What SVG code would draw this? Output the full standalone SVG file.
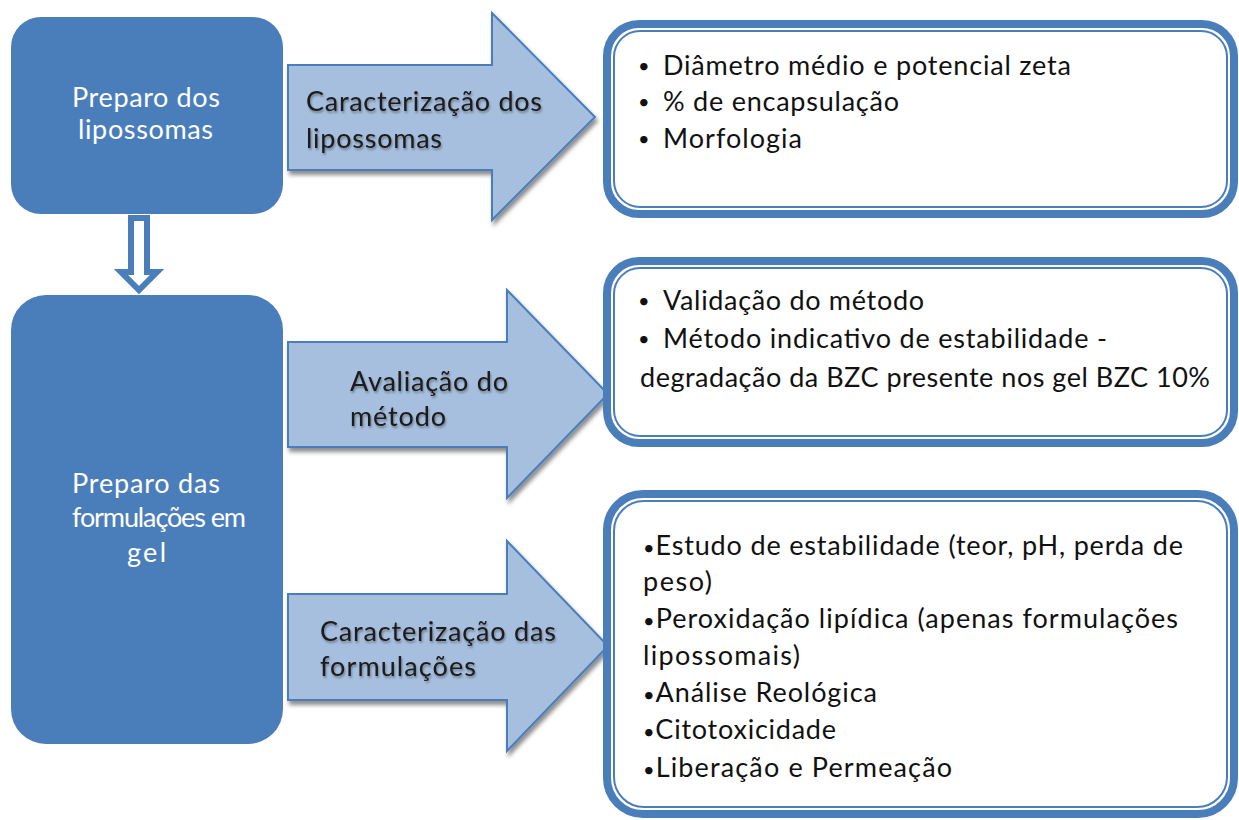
<svg xmlns="http://www.w3.org/2000/svg" width="1239" height="820" viewBox="0 0 1239 820">
<defs>
<filter id="sh" x="-10%" y="-10%" width="125%" height="130%">
<feDropShadow dx="2" dy="4" stdDeviation="2" flood-color="#000" flood-opacity="0.45"/>
</filter>
<filter id="tsh" x="-5%" y="-20%" width="110%" height="150%">
<feDropShadow dx="1" dy="2" stdDeviation="1.2" flood-color="#000" flood-opacity="0.35"/>
</filter>
</defs>
<style>
.lb{fill:#4a7ebb;}
.lt{font-family:Lato,"Liberation Sans",sans-serif;font-size:27px;fill:#ffffff;}
.arr{fill:#a7bfde;stroke:#4a7ebb;stroke-width:2;filter:url(#sh);}
.at{font-family:Lato,"Liberation Sans",sans-serif;font-size:27px;fill:#1a1a1a;filter:url(#tsh);}
.bo{fill:#ffffff;stroke:#4a7ebb;stroke-width:8;}
.bi{fill:none;stroke:#4a7ebb;stroke-width:2;}
.bt{font-family:Lato,"Liberation Sans",sans-serif;font-size:27px;fill:#111111;}
.bu{font-size:20px;}
</style>
<g id="connectors">
<path d="M131,218 H147 V272 H157 L139,290 L121,272 H131 Z" fill="#ffffff" stroke="#4a7ebb" stroke-width="6"/>
</g>
<g id="node-preparo-lipossomas">
<rect class="lb" x="11" y="17" width="272" height="197" rx="30"/>
<text class="lt" x="72" y="107" textLength="148">Preparo dos</text>
<text class="lt" x="78" y="139" textLength="135">lipossomas</text>
</g>
<g id="node-preparo-formulacoes">
<rect class="lb" x="11" y="295" width="272" height="449" rx="35"/>
<text class="lt" x="72" y="493" textLength="148">Preparo das</text>
<text class="lt" x="72" y="527" textLength="174">formulações em</text>
<text class="lt" x="127" y="562" textLength="39">gel</text>
</g>
<g id="arrow-caracterizacao-lipossomas">
<polygon class="arr" points="288,65 492,65 492,13 595,117 492,220 492,170 288,170"/>
<text class="at" x="306" y="111" textLength="236">Caracterização dos</text>
<text class="at" x="306" y="148" textLength="136">lipossomas</text>
</g>
<g id="arrow-avaliacao-metodo">
<polygon class="arr" points="288,342 507,342 507,290 608,394 507,498 507,447 288,447"/>
<text class="at" x="350" y="391" textLength="158">Avaliação do</text>
<text class="at" x="350" y="426" textLength="96">método</text>
</g>
<g id="arrow-caracterizacao-formulacoes">
<polygon class="arr" points="288,594 507,594 507,541 608,646 507,751 507,700 288,700"/>
<text class="at" x="320" y="641" textLength="236">Caracterização das</text>
<text class="at" x="320" y="676" textLength="156">formulações</text>
</g>
<g id="box-lipossomas">
<rect class="bo" x="607" y="24" width="627" height="190" rx="32"/>
<rect class="bi" x="614" y="31" width="613" height="176" rx="26"/>
<text class="bt bu" x="638" y="73">•</text><text class="bt" x="663" y="75" textLength="408">Diâmetro médio e potencial zeta</text>
<text class="bt bu" x="638" y="109">•</text><text class="bt" x="663" y="111" textLength="236">% de encapsulação</text>
<text class="bt bu" x="638" y="146">•</text><text class="bt" x="663" y="148" textLength="139">Morfologia</text>
</g>
<g id="box-metodo">
<rect class="bo" x="607" y="261" width="627" height="182" rx="32"/>
<rect class="bi" x="614" y="268" width="613" height="168" rx="26"/>
<text class="bt bu" x="638" y="308">•</text><text class="bt" x="663" y="310" textLength="261">Validação do método</text>
<text class="bt bu" x="638" y="346">•</text><text class="bt" x="663" y="348" textLength="444">Método indicativo de estabilidade -</text>
<text class="bt" x="640" y="387" textLength="570">degradação da BZC presente nos gel BZC 10%</text>
</g>
<g id="box-formulacoes">
<rect class="bo" x="607" y="494" width="627" height="320" rx="36"/>
<rect class="bi" x="614" y="501" width="613" height="306" rx="30"/>
<text class="bt" x="643" y="555" textLength="540"><tspan class="bu">•</tspan>Estudo de estabilidade (teor, pH, perda de</text>
<text class="bt" x="643" y="591" textLength="69">peso)</text>
<text class="bt" x="643" y="628" textLength="535"><tspan class="bu">•</tspan>Peroxidação lipídica (apenas formulações</text>
<text class="bt" x="643" y="665" textLength="157">lipossomais)</text>
<text class="bt" x="643" y="702" textLength="234"><tspan class="bu">•</tspan>Análise Reológica</text>
<text class="bt" x="643" y="739" textLength="193"><tspan class="bu">•</tspan>Citotoxicidade</text>
<text class="bt" x="643" y="777" textLength="309"><tspan class="bu">•</tspan>Liberação e Permeação</text>
</g>
</svg>
